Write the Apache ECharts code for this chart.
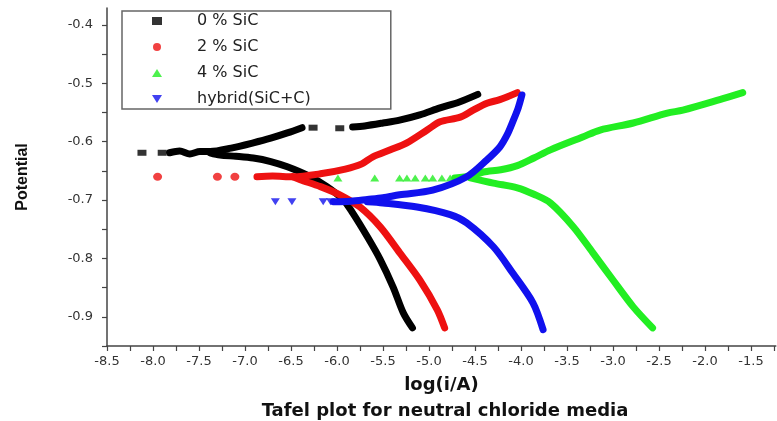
<!DOCTYPE html>
<html>
<head>
<meta charset="utf-8">
<script src="https://cdn.jsdelivr.net/npm/echarts@6/dist/echarts.min.js"></script>
<style>html,body{margin:0;padding:0;background:#fff;}#c{width:777px;height:421px;}</style>
</head>
<body>
<div id="c"></div>
<script>
// ---- data ----
const seriesNames = ['0 % SiC', '2 % SiC', '4 % SiC', 'hybrid(SiC+C)'];

// 0 % SiC (black)
const blackSparseX = [-8.12, -7.90, -6.26, -5.97];
const blackSparseY = [-0.619, -0.619, -0.576, -0.577];
const blackAnodic1X = [-7.82, -7.71, -7.60, -7.49, -7.38, -7.15, -6.91, -6.72, -6.54, -6.38];
const blackAnodic1Y = [-0.619, -0.616, -0.621, -0.617, -0.617, -0.611, -0.602, -0.594, -0.585, -0.576];
const blackAnodic2X = [-5.83, -5.70, -5.50, -5.32, -5.10, -4.88, -4.67, -4.47];
const blackAnodic2Y = [-0.575, -0.573, -0.568, -0.563, -0.554, -0.542, -0.532, -0.519];
const blackCathodicX = [-7.38, -7.27, -7.10, -6.91, -6.72, -6.54, -6.33, -6.11, -5.93, -5.83, -5.67, -5.53, -5.39, -5.28, -5.18];
const blackCathodicY = [-0.619, -0.623, -0.625, -0.628, -0.634, -0.643, -0.657, -0.677, -0.700, -0.722, -0.763, -0.802, -0.849, -0.893, -0.919];

// 2 % SiC (red)
const redSparseX = [-7.95, -7.30, -7.11];
const redSparseY = [-0.660, -0.660, -0.660];
const redAnodicX = [-6.87, -6.70, -6.48, -6.18, -5.91, -5.73, -5.61, -5.42, -5.24, -5.02, -4.88, -4.66, -4.52, -4.37, -4.23, -4.04];
const redAnodicY = [-0.660, -0.659, -0.660, -0.655, -0.647, -0.638, -0.626, -0.614, -0.602, -0.580, -0.566, -0.558, -0.546, -0.534, -0.528, -0.516];
const redCathodicX = [-6.48, -6.40, -6.18, -5.97, -5.75, -5.53, -5.32, -5.10, -4.91, -4.83];
const redCathodicY = [-0.660, -0.665, -0.677, -0.691, -0.712, -0.746, -0.790, -0.837, -0.888, -0.919];

// 4 % SiC (green)
const greenSparseX = [-5.99, -5.59, -5.32, -5.24, -5.15, -5.04, -4.96, -4.86, -4.77];
const greenSparseY = [-0.662, -0.662, -0.662, -0.662, -0.662, -0.662, -0.662, -0.662, -0.662];
const greenAnodicX = [-4.72, -4.55, -4.41, -4.22, -4.04, -3.86, -3.68, -3.33, -3.14, -2.78, -2.41, -2.24, -1.84, -1.59];
const greenAnodicY = [-0.662, -0.659, -0.652, -0.648, -0.641, -0.628, -0.614, -0.592, -0.580, -0.568, -0.551, -0.546, -0.528, -0.516];
const greenCathodicX = [-4.55, -4.30, -4.04, -3.86, -3.68, -3.43, -3.22, -3.00, -2.78, -2.57];
const greenCathodicY = [-0.662, -0.671, -0.679, -0.690, -0.705, -0.746, -0.790, -0.837, -0.883, -0.919];

// hybrid(SiC+C) (blue)
const blueSparseX = [-6.67, -6.49, -6.15, -6.07];
const blueSparseY = [-0.703, -0.703, -0.703, -0.703];
const blueAnodicX = [-6.04, -5.85, -5.67, -5.50, -5.32, -4.96, -4.59, -4.37, -4.23, -4.15, -4.09, -4.03, -3.99];
const blueAnodicY = [-0.703, -0.702, -0.699, -0.696, -0.691, -0.683, -0.660, -0.631, -0.609, -0.588, -0.566, -0.542, -0.520];
const blueCathodicX = [-5.67, -5.50, -5.13, -4.77, -4.59, -4.30, -4.09, -3.87, -3.76];
const blueCathodicY = [-0.703, -0.705, -0.712, -0.725, -0.739, -0.780, -0.825, -0.876, -0.922];

// ---- build chart ----
const zip = (xs, ys) => xs.map((x, i) => [x, ys[i]]);
const C = { black: '#000000', red: '#ee1111', green: '#22ee22', blue: '#1111ee' };

function lineS(name, xs, ys, color) {
  return { name: name, type: 'line', data: zip(xs, ys), showSymbol: false, smooth: 0.3,
    lineStyle: { color: color, width: 7, cap: 'round', join: 'round' }, itemStyle: { color: color },
    silent: true, z: 2 };
}
function scatterS(name, xs, ys, color, symbol, size, rot) {
  return { name: name, type: 'scatter', data: zip(xs, ys), symbol: symbol, symbolSize: size,
    symbolRotate: rot || 0, itemStyle: { color: color }, z: 3 };
}

const series = [
  lineS('black-a1', blackAnodic1X, blackAnodic1Y, C.black),
  lineS('black-a2', blackAnodic2X, blackAnodic2Y, C.black),
  lineS('black-c', blackCathodicX, blackCathodicY, C.black),
  scatterS(seriesNames[0], blackSparseX, blackSparseY, C.black, 'rect', [9, 6]),
  lineS('red-a', redAnodicX, redAnodicY, C.red),
  lineS('red-c', redCathodicX, redCathodicY, C.red),
  scatterS(seriesNames[1], redSparseX, redSparseY, C.red, 'circle', [9, 8]),
  lineS('green-a', greenAnodicX, greenAnodicY, C.green),
  lineS('green-c', greenCathodicX, greenCathodicY, C.green),
  scatterS(seriesNames[2], greenSparseX, greenSparseY, C.green, 'triangle', [9, 7]),
  lineS('blue-a', blueAnodicX, blueAnodicY, C.blue),
  lineS('blue-c', blueCathodicX, blueCathodicY, C.blue),
  scatterS(seriesNames[3], blueSparseX, blueSparseY, C.blue, 'path://M0,0L10,0L5,8Z', [9, 7])
];
// keep z order of colours: later groups above earlier
series.forEach((s, i) => { s.z = 2 + i; });

const fmt1 = v => {
  const r = Math.round(v * 10) / 10;
  return Math.abs(v - r) < 1e-6 ? r.toFixed(1) : '';
};

const chart = echarts.init(document.getElementById('c'), null, { renderer: 'canvas' });
chart.setOption({
  animation: false,
  backgroundColor: '#ffffff',
  title: {
    text: 'Tafel plot for neutral chloride media',
    left: 440, top: 397, textAlign: 'center',
    textStyle: { fontFamily: 'DejaVu Sans', fontWeight: 'bold', fontSize: 18, color: '#111' }
  },
  legend: {
    orient: 'vertical', left: 122, top: 11,
    data: [
      { name: seriesNames[0], icon: 'rect' },
      { name: seriesNames[1], icon: 'circle' },
      { name: seriesNames[2], icon: 'triangle' },
      { name: seriesNames[3], icon: 'path://M0,0L10,0L5,8Z' }
    ],
    itemWidth: 10, itemHeight: 8, itemGap: 8,
    padding: [1, 80, 1, 30],
    borderColor: '#666', borderWidth: 1.5, backgroundColor: '#fff',
    textStyle: { fontFamily: 'DejaVu Sans', fontSize: 16, color: '#222', lineHeight: 18, padding: [0, 0, 0, 30] }
  },
  grid: { left: 107, right: 1, top: 8, bottom: 75, containLabel: false },
  xAxis: {
    type: 'value', min: -8.5, max: -1.23, interval: 0.25,
    name: 'log(i/A)', nameLocation: 'middle', nameGap: 30,
    nameTextStyle: { fontFamily: 'DejaVu Sans', fontWeight: 'bold', fontSize: 18, color: '#111' },
    axisLine: { show: true, onZero: false, lineStyle: { color: '#444', width: 1.5 } },
    axisTick: { show: true, inside: false, length: 5, lineStyle: { color: '#444', width: 1.2 } },
    axisLabel: { formatter: fmt1, margin: 9, fontFamily: 'DejaVu Sans', fontSize: 13, color: '#333', showMaxLabel: false },
    splitLine: { show: false }
  },
  yAxis: {
    type: 'value', min: -0.95, max: -0.371, interval: 0.05,
    name: 'Potential', nameLocation: 'middle', nameGap: 76, nameRotate: 90,
    nameTextStyle: { fontFamily: 'Liberation Sans', fontWeight: 'bold', fontSize: 16, color: '#111' },
    axisLine: { show: true, onZero: false, lineStyle: { color: '#444', width: 1.5 } },
    axisTick: { show: true, inside: false, length: 5, lineStyle: { color: '#444', width: 1.2 } },
    axisLabel: { formatter: fmt1, margin: 14, fontFamily: 'DejaVu Sans', fontSize: 13, color: '#333', showMaxLabel: false },
    splitLine: { show: false }
  },
  series: series
});
</script>
</body>
</html>
